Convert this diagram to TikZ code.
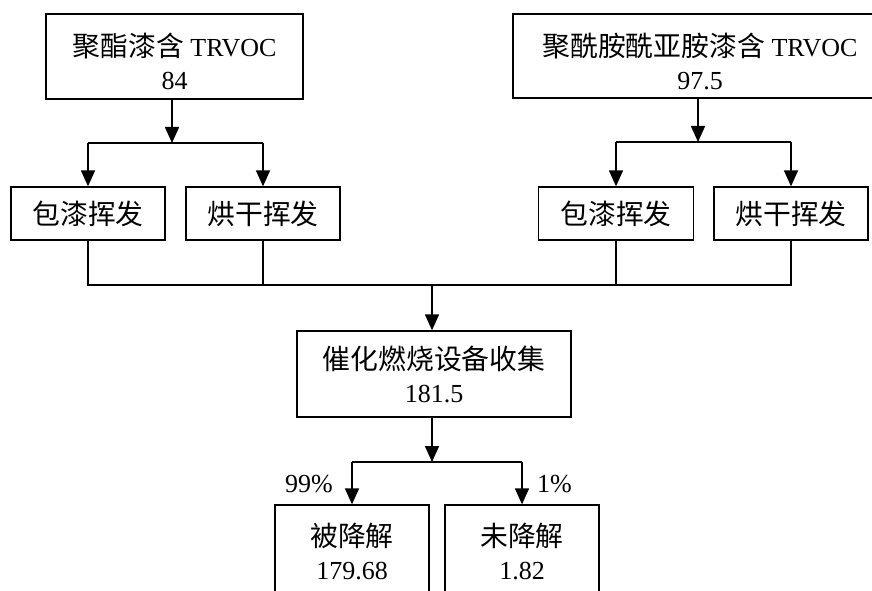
\documentclass[tikz,border=0pt]{standalone}
\usepackage{fontspec}
\setmainfont{Liberation Serif}
\newfontfamily\cjk[Scale=1.07]{Noto Sans CJK SC}
\usetikzlibrary{arrows.meta}
\begin{document}
\begin{tikzpicture}[x=1pt,y=-1pt,
  box/.style={draw, line width=1.3pt, inner sep=0pt, align=center, font=\fontsize{26}{33}\selectfont},
  arr/.style={line width=1.6pt, -{Triangle[width=14pt,length=16pt]}},
  ln/.style={line width=1.6pt},
  lbl/.style={font=\fontsize{26}{33}\selectfont, inner sep=0pt}]
\useasboundingbox (0,0) rectangle (872,591);
\clip (0,0) rectangle (872,591);
% top boxes
\node[box, minimum width=257pt, minimum height=85pt] (tl) at (174.5,56.5) {\rule{0pt}{34pt}{\cjk 聚酯漆含} TRVOC\\84};
\node[box, minimum width=374pt, minimum height=84pt] (tr) at (700,56) {\rule{0pt}{34pt}{\cjk 聚酰胺酰亚胺漆含} TRVOC\\97.5};
% second row
\node[box, minimum width=154pt, minimum height=53pt] (a1) at (88,213.5) {\cjk 包漆挥发};
\node[box, minimum width=154pt, minimum height=53pt] (b1) at (263,213.5) {\cjk 烘干挥发};
\node[box, minimum width=155pt, minimum height=53pt] (a2) at (616,213.5) {\cjk 包漆挥发};
\node[box, minimum width=154pt, minimum height=53pt] (b2) at (791,213.5) {\cjk 烘干挥发};
% central
\node[box, minimum width=274pt, minimum height=86pt] (c) at (434,374) {{\cjk 催化燃烧设备收集}\\181.5};
% bottom
\node[box, minimum width=154pt, minimum height=92pt] (d1) at (352,551) {{\cjk 被降解}\\179.68};
\node[box, minimum width=154pt, minimum height=92pt] (d2) at (522,551) {{\cjk 未降解}\\1.82};
% labels
\node[lbl, anchor=east] (p99) at (333,484) {99\%};
\node[lbl, anchor=west] (p1) at (537,484) {1\%};
% connectors left
\coordinate (j1) at (172,143);
\draw[arr] (j1 |- tl.south) -- (j1);
\draw[ln] (a1.north |- j1) -- (b1.north |- j1);
\draw[arr] (a1.north |- j1) -- (a1.north);
\draw[arr] (b1.north |- j1) -- (b1.north);
% connectors right
\coordinate (j2) at (698,142);
\draw[arr] (j2 |- tr.south) -- (j2);
\draw[ln] (a2.north |- j2) -- (b2.north |- j2);
\draw[arr] (a2.north |- j2) -- (a2.north);
\draw[arr] (b2.north |- j2) -- (b2.north);
% merge
\coordinate (m) at (432,285);
\draw[ln] (a1.south) -- (a1.south |- m) -- (b2.south |- m) -- (b2.south);
\draw[ln] (b1.south) -- (b1.south |- m);
\draw[ln] (a2.south) -- (a2.south |- m);
\draw[arr] (m) -- (m |- c.north);
% split
\coordinate (j3) at (432,462);
\draw[arr] (j3 |- c.south) -- (j3);
\draw[ln] (d1.north |- j3) -- (d2.north |- j3);
\draw[arr] (d1.north |- j3) -- (d1.north);
\draw[arr] (d2.north |- j3) -- (d2.north);
\end{tikzpicture}
\end{document}
